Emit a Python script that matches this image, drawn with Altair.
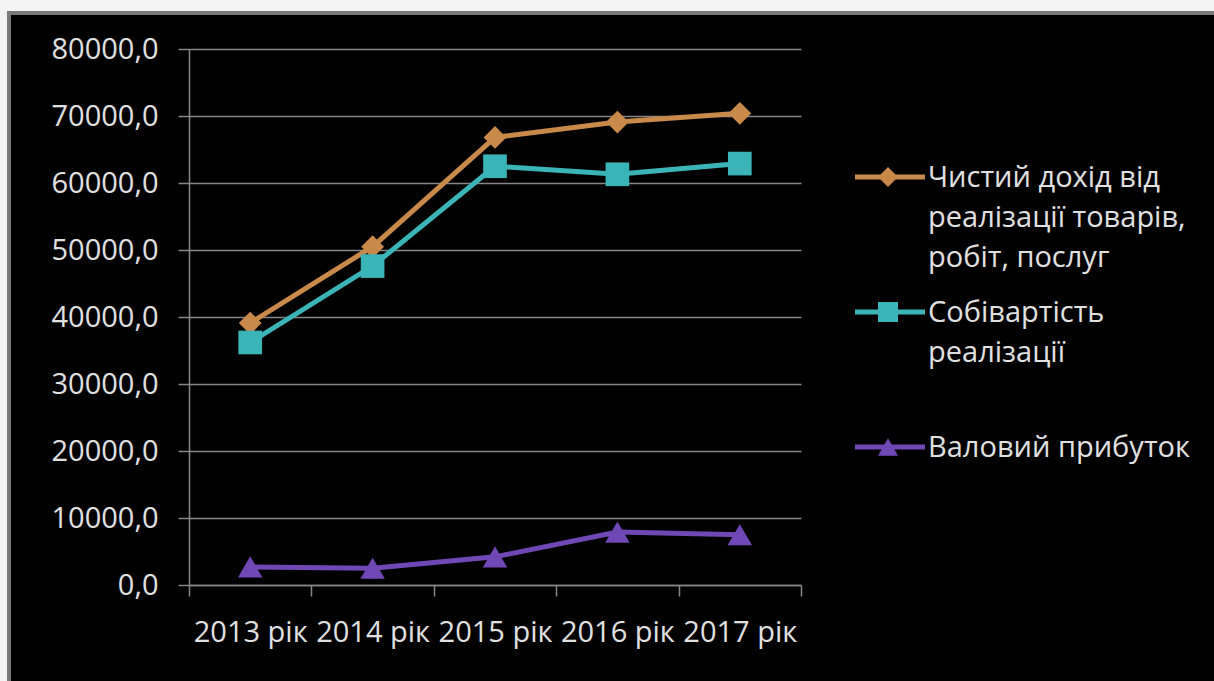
import altair as alt
import pandas as pd

# Categories and series values
years = ["2013 рік", "2014 рік", "2015 рік", "2016 рік", "2017 рік"]
series = [
    "Чистий дохід від реалізації товарів, робіт, послуг",
    "Собівартість реалізації",
    "Валовий прибуток",
]
legend_labels = [
    "Чистий дохід від\nреалізації товарів,\nробіт, послуг",
    "Собівартість\nреалізації",
    "Валовий прибуток",
]
revenue = [39100, 50500, 66800, 69100, 70400]
cost = [36200, 47600, 62500, 61300, 62900]
gross = [2700, 2500, 4200, 7900, 7500]

colors = ["#C8894B", "#3BB4B8", "#6F48B6"]
shapes = ["diamond", "square", "triangle-up"]
sizes = [520, 600, 680]

FONT = "Open Sans"
TEXT = "#e0e0e0"
GRID = "#868686"

rows = []
for name, vals in zip(series, [revenue, cost, gross]):
    for y, v in zip(years, vals):
        rows.append({"year": y, "series": name, "value": v})
df = pd.DataFrame(rows)

leg = pd.DataFrame({"series": series, "label": legend_labels, "idx": list(range(len(series)))})

color = alt.Color("series:N", scale=alt.Scale(domain=series, range=colors), legend=None)
shape = alt.Shape("series:N", scale=alt.Scale(domain=series, range=shapes), legend=None)
size = alt.Size("series:N", scale=alt.Scale(domain=series, range=sizes), legend=None)

x = alt.X(
    "year:N",
    sort=years,
    scale=alt.Scale(paddingInner=0, paddingOuter=0),
    axis=alt.Axis(
        title=None, labelAngle=0, labelFont=FONT, labelFontSize=29, labelColor=TEXT,
        labelPadding=22, tickBand="extent", tickSize=11, tickColor=GRID, tickWidth=1.5,
        domainColor=GRID, domainWidth=1.5, grid=False,
    ),
)
y = alt.Y(
    "value:Q",
    scale=alt.Scale(domain=[0, 80000], nice=False),
    axis=alt.Axis(
        title=None, values=list(range(0, 80001, 10000)),
        labelExpr="replace(format(datum.value, '.1f'), '.', ',')",
        labelFont=FONT, labelFontSize=29, labelColor=TEXT, labelPadding=20,
        tickSize=11, tickColor=GRID, tickWidth=1.5, domainColor=GRID, domainWidth=1.5,
        gridColor=GRID, gridWidth=1.5,
    ),
)

lines = alt.Chart(df).mark_line(strokeWidth=5).encode(x=x, y=y, color=color, detail="series:N")
points = alt.Chart(df).mark_point(filled=True, opacity=1).encode(
    x=x, y=y, color=color, shape=shape, size=size
)
plot = alt.layer(lines, points)

# Legend drawn beside the plot, one entry per series
ly = alt.Y("idx:Q", scale=alt.Scale(domain=[0, 2], range=[128, 398]), axis=None)
leg_rule = alt.Chart(leg).mark_rule(strokeWidth=5).encode(
    x=alt.value(666), x2=alt.value(736), y=ly, color=color
)
leg_point = alt.Chart(leg).mark_point(filled=True, opacity=1, size=400).encode(
    x=alt.value(699), y=ly, color=color, shape=shape
)
leg_text = alt.Chart(leg).mark_text(
    align="left", baseline="alphabetic", dy=10, lineBreak="\n", lineHeight=40,
    font=FONT, fontSize=29, color=TEXT,
).encode(x=alt.value(739), y=ly, text="label:N")
legend = alt.layer(leg_rule, leg_point, leg_text)

# Light outer margin and grey frame around the dark panel
one = pd.DataFrame({"k": [0]})
margin_left = alt.Chart(one).mark_rect(color="#f3f3f3").encode(
    x=alt.value(-189), x2=alt.value(-182), y=alt.value(-49), y2=alt.value(640)
)
margin_top = alt.Chart(one).mark_rect(color="#f3f3f3").encode(
    x=alt.value(-189), x2=alt.value(1030), y=alt.value(-49), y2=alt.value(-38)
)
frame = alt.Chart(one).mark_rect(fill=None, stroke="#7a7a7a", strokeWidth=4).encode(
    x=alt.value(-180), x2=alt.value(1100), y=alt.value(-36), y2=alt.value(700)
)

chart = (
    alt.layer(plot, legend, margin_left, margin_top, frame)
    .resolve_scale(y="independent")
    .properties(
        width=612, height=536, autosize="none", background="#000000",
        padding={"left": 189, "top": 49, "right": 413, "bottom": 96},
    )
    .configure_view(stroke=None)
)

chart.save("out.html", embed_options={"renderer": "svg", "actions": False})
